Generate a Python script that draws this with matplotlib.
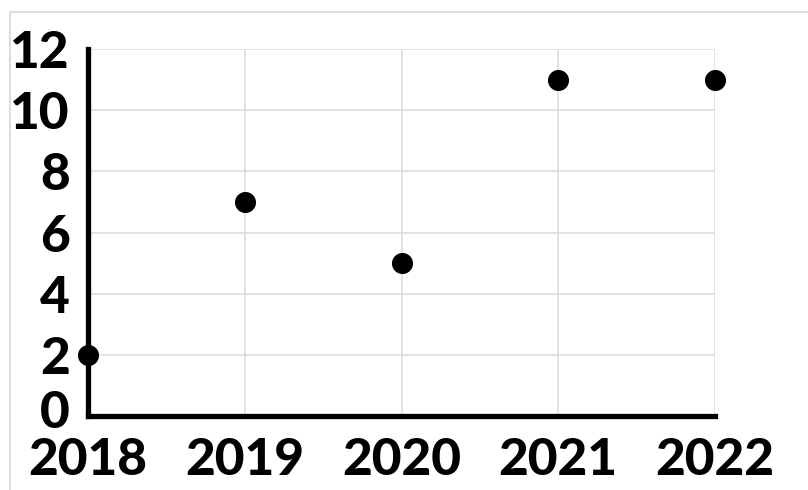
import matplotlib
matplotlib.use('Agg')
import matplotlib.pyplot as plt
import matplotlib.transforms as mtransforms
from matplotlib.lines import Line2D

years = [2018, 2019, 2020, 2021, 2022]
values = [2, 7, 5, 11, 11]
y_ticks = [0, 2, 4, 6, 8, 10, 12]

plt.rcParams['font.family'] = ['Lato', 'DejaVu Sans']

fig = plt.figure(figsize=(8.08, 4.90), dpi=100)
ax = fig.add_axes([88 / 808, 74 / 490, 627 / 808, 367 / 490])

ax.scatter(years, values, s=200, c='black', zorder=5, clip_on=False)

ax.set_xlim(2018, 2022)
ax.set_ylim(0, 12)
ax.set_xticks(years)
ax.set_yticks(y_ticks)
ax.set_xticklabels([str(y) for y in years])

ax.grid(True, color='#dddddd', linewidth=1.2)
ax.set_axisbelow(True)

for side in ['top', 'right']:
    ax.spines[side].set_visible(False)
for side in ['left', 'bottom']:
    ax.spines[side].set_linewidth(3.8)
    ax.spines[side].set_color('black')
    ax.spines[side].set_capstyle('projecting')

ax.tick_params(length=0, labelsize=37)
ax.tick_params(axis='x', pad=15)
ax.tick_params(axis='y', pad=13)
for lbl in ax.get_xticklabels() + ax.get_yticklabels():
    lbl.set_fontweight('black')

# nudge the zero label up a little so it clears the year labels
zero = ax.yaxis.get_major_ticks()[0].label1
zero.set_transform(zero.get_transform() + mtransforms.ScaledTranslation(0, 5 / 72, fig.dpi_scale_trans))

# light frame around the picture
fig.add_artist(Line2D([9.5 / 808, 9.5 / 808], [0, 1 - 12.5 / 490], color='#dddddd', linewidth=1.5))
fig.add_artist(Line2D([9.5 / 808, 1], [1 - 12.5 / 490, 1 - 12.5 / 490], color='#dddddd', linewidth=1.5))

fig.savefig('out.png', dpi=100)
